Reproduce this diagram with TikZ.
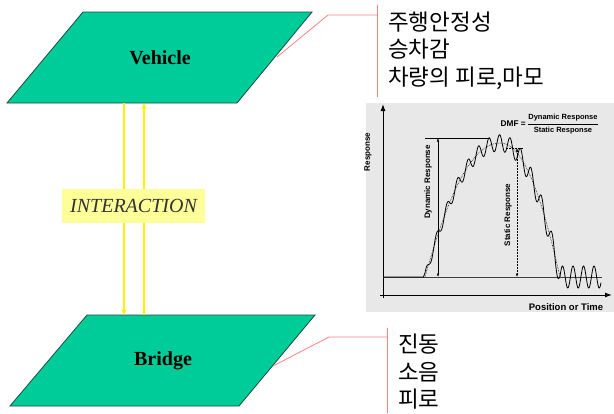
\documentclass[tikz,border=0pt]{standalone}
\usepackage{fontspec}
\setmainfont{Liberation Serif}
\newfontfamily\korfont{Noto Sans CJK KR}
\newfontfamily\chartsans{Liberation Sans}
\usetikzlibrary{arrows.meta}
\definecolor{plate}{HTML}{00CC99}
\definecolor{plateedge}{HTML}{1E4A3C}
\definecolor{callred}{HTML}{FF8080}
\definecolor{interfill}{HTML}{FFFF99}
\definecolor{intertext}{HTML}{333333}
\definecolor{chartbg}{HTML}{E8E8E8}
\begin{document}
\begin{tikzpicture}[x=1pt,y=-1pt,
  plateshape/.style={fill=plate,draw=plateedge,line width=0.8pt},
  platelabel/.style={font=\bfseries\fontsize{20}{24}\selectfont,inner sep=0pt},
  yellowlink/.style={draw=yellow,line width=1.6pt,-{Stealth[length=6pt,width=5pt]}},
  callout/.style={draw=callred,line width=0.8pt},
  kortext/.style={font=\korfont\fontsize{22.5}{27}\selectfont,anchor=base west,inner sep=0pt},
  chartlabel/.style={font=\chartsans\bfseries\fontsize{8}{10}\selectfont,inner sep=0pt},
  axisarrow/.style={line width=1pt,-{Latex[length=7pt,width=5pt]}},
  dimarrow/.style={line width=0.5pt,{Latex[length=3.5pt,width=2.5pt]}-{Latex[length=3.5pt,width=2.5pt]}}
]
\useasboundingbox (0,0) rectangle (614,413);

% ---------- Vehicle plate ----------
\path[plateshape] (7,103) -- (83,12) -- (312,12) -- (237,103) -- cycle;
\node[platelabel] (vehicle) at (160,58) {Vehicle};
\coordinate (vdownA) at (124,103);
\coordinate (vupB) at (144,103);
\coordinate (vcall) at (277,57);

% ---------- Bridge plate ----------
\path[plateshape] (10,406) -- (87,315) -- (315,315) -- (239,406) -- cycle;
\node[platelabel] (bridge) at (163,361) {Bridge};
\coordinate (bdownA) at (124,315);
\coordinate (bupB) at (144,315);
\coordinate (bcall) at (273,366);

% ---------- interaction arrows ----------
\draw[yellowlink] (vdownA) -- (bdownA);
\draw[yellowlink] (bupB) -- (vupB);
\node[fill=interfill,minimum width=143pt,minimum height=34pt,inner sep=0pt,
      text=intertext,font=\itshape\fontsize{20}{24}\selectfont] (inter) at (133.5,206) {INTERACTION};

% ---------- callouts ----------
\coordinate (vknee) at (328,15);
\coordinate (vbar) at (377,15);
\draw[callout] (vcall) -- (vknee) -- (vbar);
\coordinate (vbartop) at (377,5);
\coordinate (vbarbot) at (377,97);
\draw[callout] (vbartop) -- (vbarbot);

\coordinate (bknee) at (329,337);
\coordinate (bbar) at (387,337);
\draw[callout] (bcall) -- (bknee) -- (bbar);
\coordinate (bbartop) at (387,328);
\coordinate (bbarbot) at (387,413);
\draw[callout] (bbartop) -- (bbarbot);

\node[kortext] (k1) at (388,30) {주행안정성};
\node[kortext] (k2) at (388,57.5) {승차감};
\node[kortext] (k3) at (388,85) {차량의 피로,마모};
\node[kortext] (k4) at (398,352.5) {진동};
\node[kortext] (k5) at (398,380.5) {소음};
\node[kortext] (k6) at (398,407.5) {피로};

% ---------- chart ----------
\fill[chartbg] (366,103) rectangle (614,312);
\draw[axisarrow] (383,298) -- (383,104);
\draw[axisarrow] (380,295) -- (612,295);
\draw[line width=0.6pt,black!75] (383,277) -- (602,277);

% static (dotted) curve
\draw[densely dotted,line width=0.6pt]
  plot[domain=425:500,samples=60] (\x,{277-134*sin(1.2*(\x-425))*(1.25-0.25*sin(1.2*(\x-425)))})
  -- plot[domain=500:560,samples=50] (\x,{277-134*sin(90+1.5*(\x-500))*(1.25-0.25*sin(90+1.5*(\x-500)))});

% dynamic (solid) curve
\draw[line width=0.8pt,line join=round]
  (383,277) -- (423.4,277)
  -- plot[domain=425:500,samples=200] (\x,{277-134*sin(1.2*(\x-425))*(1.25-0.25*sin(1.2*(\x-425)))-(5+0.04444*(\x-425))*sin(34.2857*(\x-423.4))})
  -- plot[domain=500:560,samples=160] (\x,{277-134*sin(90+1.5*(\x-500))*(1.25-0.25*sin(90+1.5*(\x-500)))-(5+0.04444*(\x-425))*sin(34.2857*(\x-423.4))})
  -- plot[domain=560:601,samples=120] (\x,{277-11*sin(34.2857*(\x-423.4))});

% dynamic response dimension
\draw[line width=0.6pt] (425,138) -- (490,138);
\draw[dimarrow] (438,138) -- (438,277);
% static response dimension
\draw[densely dotted,line width=0.5pt] (507,148) -- (523,148);
\draw[dimarrow,densely dotted] (517,148) -- (517,277);

\node[chartlabel,rotate=90] (resp) at (368,152) {Response};
\node[chartlabel,rotate=90] (dynlab) at (428,182) {Dynamic Response};
\node[chartlabel,rotate=90] (statlab) at (508,215) {Static Response};
\node[chartlabel,font=\chartsans\bfseries\fontsize{9.5}{11}\selectfont] (postime) at (566,307) {Position or Time};

\node[chartlabel,anchor=east,font=\chartsans\bfseries\fontsize{8.3}{10}\selectfont] (dmf) at (526,124) {DMF =};
\node[chartlabel,font=\chartsans\bfseries\fontsize{7.5}{9}\selectfont] (num) at (563,118) {Dynamic Response};
\node[chartlabel,font=\chartsans\bfseries\fontsize{7.5}{9}\selectfont] (den) at (563,131) {Static Response};
\coordinate (fracL) at (528,124);
\coordinate (fracR) at (598,124);
\draw[line width=0.5pt] (fracL) -- (fracR);
\end{tikzpicture}
\end{document}
